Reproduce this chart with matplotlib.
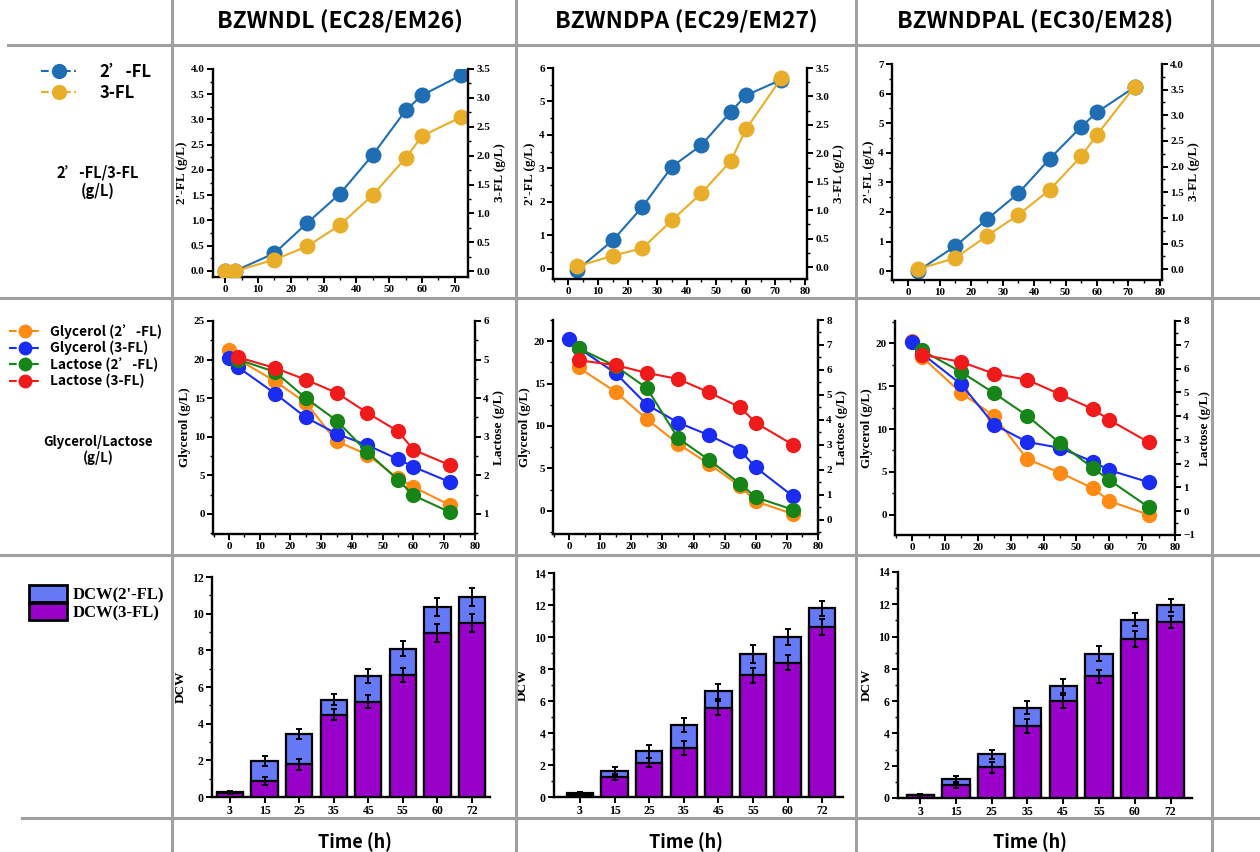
import matplotlib.pyplot as plt
from matplotlib.lines import Line2D
from matplotlib.patches import Patch
from matplotlib.ticker import MultipleLocator, AutoMinorLocator

# ---- data ----
strains = ['BZWNDL (EC28/EM26)', 'BZWNDPA (EC29/EM27)', 'BZWNDPAL (EC30/EM28)']

# row 1: 2'-FL / 3-FL titres
t_fl_1 = [0, 3, 15, 25, 35, 45, 55, 60, 72]
fl2_1 = [0.0, 0.0, 0.35, 0.95, 1.53, 2.30, 3.18, 3.48, 3.88]
fl3_1 = [0.0, 0.0, 0.20, 0.43, 0.80, 1.32, 1.96, 2.34, 2.67]
t_fl = [3, 15, 25, 35, 45, 55, 60, 72]
fl2_2 = [-0.03, 0.85, 1.85, 3.05, 3.70, 4.70, 5.18, 5.65]
fl3_2 = [0.01, 0.20, 0.33, 0.82, 1.30, 1.87, 2.42, 3.32]
fl2_3 = [0.0, 0.85, 1.75, 2.63, 3.80, 4.88, 5.37, 6.22]
fl3_3 = [0.0, 0.22, 0.65, 1.06, 1.55, 2.20, 2.62, 3.56]

# row 2: glycerol / lactose
t_gly = [0, 3, 15, 25, 35, 45, 55, 60, 72]
t_lac = [3, 15, 25, 35, 45, 55, 60, 72]
gly2_1 = [21.2, 20.0, 17.2, 14.4, 9.4, 7.7, 4.6, 3.5, 1.1]
gly3_1 = [20.2, 19.0, 15.6, 12.5, 10.4, 8.9, 7.1, 6.1, 4.1]
lac2_1 = [5.00, 4.68, 4.00, 3.42, 2.60, 1.88, 1.48, 1.04]
lac3_1 = [5.06, 4.78, 4.48, 4.14, 3.62, 3.14, 2.66, 2.26]
gly2_2 = [16.9, 14.0, 10.8, 7.9, 5.5, 2.9, 1.1, -0.4]   # starts at 3 h
gly3_2 = [20.3, 19.2, 16.2, 12.5, 10.4, 8.9, 7.1, 5.1, 1.7]
lac2_2 = [6.87, 6.15, 5.27, 3.27, 2.39, 1.44, 0.90, 0.40]
lac3_2 = [6.39, 6.19, 5.88, 5.64, 5.10, 4.50, 3.88, 3.00]
gly2_3 = [20.3, 18.4, 14.2, 11.5, 6.5, 4.9, 3.1, 1.6, 0.0]
gly3_3 = [20.1, 18.8, 15.2, 10.5, 8.5, 7.8, 6.2, 5.2, 3.8]
lac2_3 = [6.76, 5.85, 4.96, 4.02, 2.86, 1.82, 1.31, 0.17]
lac3_3 = [6.58, 6.28, 5.78, 5.53, 4.92, 4.30, 3.84, 2.90]

# row 3: DCW bars
time_cats = ['3', '15', '25', '35', '45', '55', '60', '72']
dcw2_1 = [0.30, 1.95, 3.45, 5.30, 6.60, 8.10, 10.35, 10.90]
dcw3_1 = [0.20, 0.85, 1.78, 4.50, 5.20, 6.63, 8.95, 9.50]
err2_1 = [0.05, 0.27, 0.28, 0.30, 0.40, 0.42, 0.48, 0.50]
err3_1 = [0.05, 0.22, 0.30, 0.30, 0.35, 0.38, 0.48, 0.50]
dcw2_2 = [0.22, 1.60, 2.85, 4.50, 6.60, 8.95, 10.00, 11.80]
dcw3_2 = [0.15, 1.25, 2.15, 3.05, 5.55, 7.60, 8.40, 10.60]
err2_2 = [0.08, 0.30, 0.40, 0.45, 0.48, 0.55, 0.48, 0.48]
err3_2 = [0.05, 0.20, 0.30, 0.42, 0.42, 0.45, 0.48, 0.50]
dcw2_3 = [0.20, 1.20, 2.70, 5.60, 6.95, 8.95, 11.05, 11.95]
dcw3_3 = [0.18, 0.80, 1.90, 4.45, 6.00, 7.55, 9.85, 10.90]
err2_3 = [0.05, 0.18, 0.28, 0.40, 0.42, 0.45, 0.40, 0.40]
err3_3 = [0.05, 0.15, 0.35, 0.42, 0.40, 0.40, 0.48, 0.38]

C_FL2, C_FL3 = '#1f6db3', '#e8ae2a'
C_G2, C_G3, C_L2, C_L3 = '#ff8a14', '#1a2cf2', '#168416', '#f01a1a'
C_B2, C_B3 = '#6679f7', '#9900c9'

plt.rcParams['font.family'] = 'Liberation Serif'
plt.rcParams['font.weight'] = 'bold'
plt.rcParams['axes.labelweight'] = 'bold'
SANS = ['Noto Sans CJK SC', 'DejaVu Sans']

W, H = 1260, 852
fig = plt.figure(figsize=(W / 100, H / 100), dpi=100)


def add_ax(l, t, r, b):
    return fig.add_axes([l / W, 1 - b / H, (r - l) / W, (b - t) / H])


def style(ax, twin=False):
    ax.spines['top'].set_visible(False)
    if twin:
        ax.spines['left'].set_visible(False)
        ax.spines['bottom'].set_visible(False)
    else:
        ax.spines['right'].set_visible(False)
    for s in ax.spines.values():
        s.set_linewidth(1.7)
    ax.tick_params(which='major', direction='out', length=4, width=1.4, labelsize=8, pad=2)
    ax.tick_params(which='minor', direction='out', length=2.2, width=1)
    ax.set_facecolor('none')


# ---- row 1 ----
top_boxes = [(213, 69, 468, 277), (553, 68, 807, 279), (892, 64, 1162, 280)]
top_data = [(t_fl_1, fl2_1, fl3_1), (t_fl, fl2_2, fl3_2), (t_fl, fl2_3, fl3_3)]
top_lims = [((-3.7, 74), (-0.12, 4.0), 0.5, (-0.1, 3.5)),
            ((-5.2, 80.7), (-0.3, 6.0), 1, (-0.21, 3.5)),
            ((-5.2, 80.7), (-0.3, 7.0), 1, (-0.21, 4.0))]
for i, (box, (tt, y2, y3), (xl, yl, ystep, yr)) in enumerate(zip(top_boxes, top_data, top_lims)):
    ax = add_ax(*box)
    ax.plot(tt, y2, '-o', color=C_FL2, lw=1.5, ms=11.5, mew=0)
    ax.set_xlim(*xl)
    ax.set_ylim(*yl)
    ax.xaxis.set_major_locator(MultipleLocator(10))
    ax.xaxis.set_minor_locator(AutoMinorLocator(2))
    ax.yaxis.set_major_locator(MultipleLocator(ystep))
    ax.yaxis.set_minor_locator(AutoMinorLocator(2))
    ax.set_ylabel("2'-FL (g/L)", fontsize=9.5, labelpad=2)
    style(ax)
    ax2 = ax.twinx()
    ax2.plot(tt, y3, '-o', color=C_FL3, lw=1.5, ms=11.5, mew=0)
    ax2.set_ylim(*yr)
    ax2.yaxis.set_major_locator(MultipleLocator(0.5))
    ax2.yaxis.set_minor_locator(AutoMinorLocator(2))
    ax2.set_ylabel('3-FL (g/L)', fontsize=9.5, labelpad=3)
    style(ax2, twin=True)

# ---- row 2 ----
mid_boxes = [(213, 321, 475, 534), (553, 320, 818, 534), (895, 321, 1175, 535)]
mid_data = [(t_gly, gly2_1, t_gly, gly3_1, lac2_1, lac3_1),
            (t_lac, gly2_2, t_gly, gly3_2, lac2_2, lac3_2),
            (t_gly, gly2_3, t_gly, gly3_3, lac2_3, lac3_3)]
mid_lims = [((-2.6, 25), (0.48, 6)), ((-2.75, 22.5), (-0.57, 8)), ((-2.36, 22.6), (-1, 8))]
for box, (tg2, g2, tg3, g3, l2, l3), (yl, yr) in zip(mid_boxes, mid_data, mid_lims):
    ax = add_ax(*box)
    ax.plot(tg2, g2, '-o', color=C_G2, lw=1.5, ms=11, mew=0)
    ax.plot(tg3, g3, '-o', color=C_G3, lw=1.5, ms=11, mew=0)
    ax.set_xlim(-5.2, 80)
    ax.set_ylim(*yl)
    ax.xaxis.set_major_locator(MultipleLocator(10))
    ax.xaxis.set_minor_locator(AutoMinorLocator(2))
    ax.yaxis.set_major_locator(MultipleLocator(5))
    ax.yaxis.set_minor_locator(AutoMinorLocator(2))
    ax.set_ylabel('Glycerol (g/L)', fontsize=9.5, labelpad=2)
    style(ax)
    ax2 = ax.twinx()
    ax2.plot(t_lac, l2, '-o', color=C_L2, lw=1.5, ms=11, mew=0)
    ax2.plot(t_lac, l3, '-o', color=C_L3, lw=1.5, ms=11, mew=0)
    ax2.set_ylim(*yr)
    ax2.yaxis.set_major_locator(MultipleLocator(1))
    ax2.yaxis.set_minor_locator(AutoMinorLocator(2))
    ax2.set_ylabel('Lactose (g/L)', fontsize=9.5, labelpad=3)
    style(ax2, twin=True)

# ---- row 3 ----
bot_boxes = [(212, 577, 490, 797), (554, 573, 843, 797), (898, 572, 1192, 798)]
bot_data = [(dcw2_1, err2_1, dcw3_1, err3_1, 12, (-0.52, 7.52)),
            (dcw2_2, err2_2, dcw3_2, err3_2, 14, (-0.75, 7.6)),
            (dcw2_3, err2_3, dcw3_3, err3_3, 14, (-0.62, 7.6))]
for box, (d2, e2, d3, e3, ytop, xl) in zip(bot_boxes, bot_data):
    ax = add_ax(*box)
    x = range(len(time_cats))
    ax.bar(x, d2, width=0.76, color=C_B2, edgecolor='black', linewidth=1.6, zorder=2)
    ax.bar(x, d3, width=0.76, color=C_B3, edgecolor='black', linewidth=1.6, zorder=3)
    ax.errorbar(x, d2, yerr=e2, fmt='none', ecolor='black', elinewidth=1.4,
                capsize=2.5, capthick=1.4, zorder=4)
    ax.errorbar(x, d3, yerr=e3, fmt='none', ecolor='black', elinewidth=1.4,
                capsize=2.5, capthick=1.4, zorder=4)
    ax.set_xticks(list(x))
    ax.set_xticklabels(time_cats)
    ax.set_xlim(*xl)
    ax.set_ylim(0, ytop)
    ax.yaxis.set_major_locator(MultipleLocator(2))
    ax.yaxis.set_minor_locator(AutoMinorLocator(2))
    ax.set_ylabel('DCW', fontsize=9.5, labelpad=4)
    style(ax)
    ax.tick_params(axis='both', labelsize=8.5)

# ---- table frame ----
grid_kw = dict(color='#a0a0a0', lw=2.2, transform=fig.transFigure)
for xv in [172, 516, 856, 1212]:
    fig.add_artist(Line2D([xv / W, xv / W], [0, 1], **grid_kw))
for yv, x0 in [(45, 8), (298, 0), (555, 0), (818, 22)]:
    fig.add_artist(Line2D([x0 / W, 1], [1 - yv / H, 1 - yv / H], **grid_kw))

# ---- headers and row labels ----
for name, cx in zip(strains, [340, 686, 1035]):
    fig.text(cx / W, 1 - 22 / H, name, ha='center', va='center', fontsize=16.5,
             fontweight='bold', family=SANS)
for cx in [355, 686, 1030]:
    fig.text(cx / W, 1 - 842 / H, 'Time (h)', ha='center', va='center', fontsize=13,
             fontweight='bold', family=SANS)
fig.text(98 / W, 1 - 182 / H, '2’-FL/3-FL\n(g/L)', ha='center', va='center',
         fontsize=10.5, fontweight='bold', family=SANS, linespacing=1.15)
fig.text(98 / W, 1 - 450 / H, 'Glycerol/Lactose\n(g/L)', ha='center', va='center',
         fontsize=9.5, fontweight='bold', family=SANS, linespacing=1.2)

# ---- legends ----
h_fl = [Line2D([], [], color=c, ls='--', lw=1.5, marker='o', ms=11, mew=0) for c in (C_FL2, C_FL3)]
fig.legend(h_fl, ['2’-FL', '3-FL'], loc='upper left', bbox_to_anchor=(36 / W, 1 - 58 / H),
           frameon=False, handlelength=2.1, handletextpad=1.4, labelspacing=0.15,
           borderaxespad=0, borderpad=0.3,
           prop=dict(family=SANS, weight='bold', size=12))
h_gl = [Line2D([], [], color=c, ls='--', lw=1.5, marker='o', ms=10, mew=0)
        for c in (C_G2, C_G3, C_L2, C_L3)]
fig.legend(h_gl, ['Glycerol (2’-FL)', 'Glycerol (3-FL)', 'Lactose (2’-FL)', 'Lactose (3-FL)'],
           loc='upper left', bbox_to_anchor=(5 / W, 1 - 320 / H), frameon=False,
           handlelength=2.4, handletextpad=0.6, labelspacing=0.15,
           borderaxespad=0, borderpad=0.3,
           prop=dict(family=SANS, weight='bold', size=9.8))
h_b = [Patch(facecolor=c, edgecolor='black', linewidth=2) for c in (C_B2, C_B3)]
fig.legend(h_b, ["DCW(2'-FL)", 'DCW(3-FL)'], loc='upper left', bbox_to_anchor=(24 / W, 1 - 580 / H),
           frameon=False, handlelength=2.3, handleheight=1.2, handletextpad=0.3,
           labelspacing=0.0, borderaxespad=0, borderpad=0.3,
           prop=dict(family='Liberation Serif', weight='bold', size=12))

fig.savefig('out.png', dpi=100)
